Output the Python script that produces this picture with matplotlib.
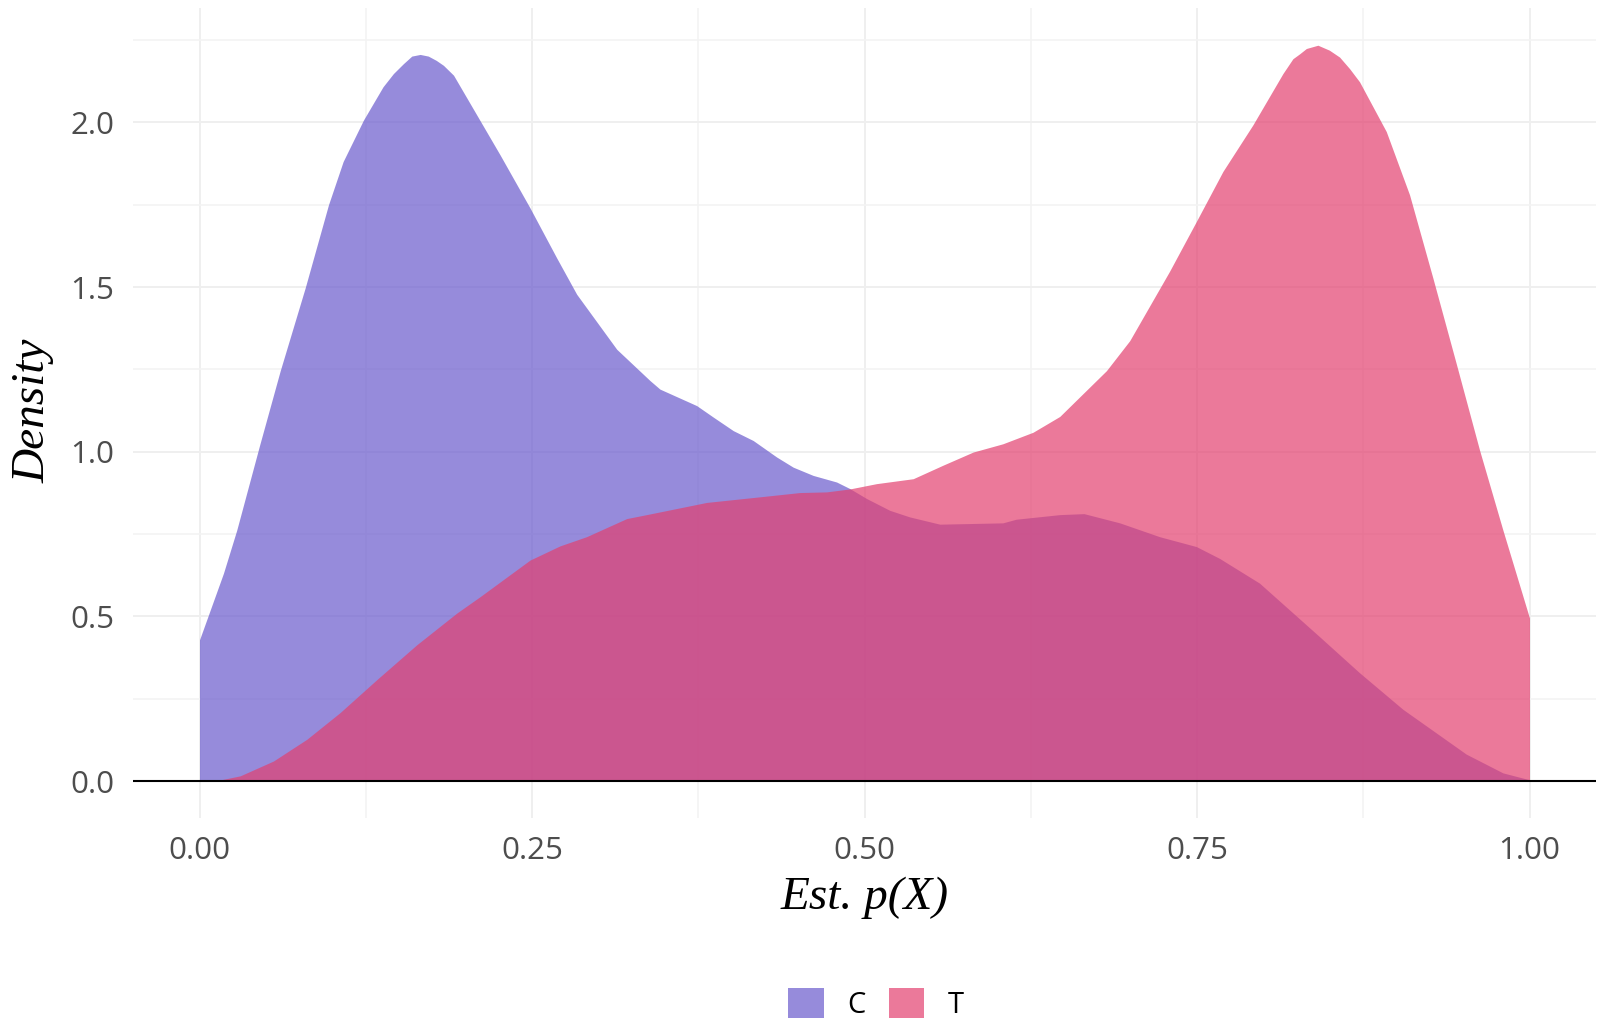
import matplotlib
matplotlib.use("Agg")
import matplotlib.pyplot as plt
from matplotlib.patches import Patch

# Density curve for group C (Est. p(X) vs density)
c_x = [0.0, 0.018, 0.028, 0.0452, 0.0607, 0.0795, 0.097, 0.108, 0.1233, 0.138, 0.1458,
       0.1533, 0.1596, 0.1659, 0.172, 0.178, 0.1834, 0.191, 0.2085, 0.226, 0.2485, 0.2686,
       0.2836, 0.3036, 0.3137, 0.3387, 0.3462, 0.3738, 0.3863, 0.4013, 0.4163, 0.4339,
       0.4464, 0.4614, 0.479, 0.489, 0.5015, 0.519, 0.534, 0.5566, 0.604, 0.614, 0.6468,
       0.665, 0.6919, 0.7219, 0.7495, 0.767, 0.797, 0.842, 0.8722, 0.9048, 0.9524, 0.98,
       1.0]
c_y = [0.429, 0.631, 0.762, 1.02, 1.246, 1.498, 1.75, 1.881, 2.007, 2.108, 2.148,
       2.178, 2.201, 2.206, 2.201, 2.188, 2.173, 2.143, 2.022, 1.901, 1.74, 1.588,
       1.478, 1.367, 1.311, 1.216, 1.19, 1.14, 1.105, 1.064, 1.034, 0.984,
       0.953, 0.928, 0.908, 0.888, 0.858, 0.822, 0.802, 0.78, 0.784, 0.795, 0.809,
       0.812, 0.784, 0.742, 0.712, 0.676, 0.601, 0.439, 0.329, 0.218, 0.082, 0.025,
       0.004]

# Density curve for group T
t_x = [0.0, 0.015, 0.0306, 0.0556, 0.0807, 0.1057, 0.1333, 0.1634, 0.1934, 0.211, 0.2485,
       0.271, 0.291, 0.3212, 0.3362, 0.3813, 0.4213, 0.4514, 0.4715, 0.489, 0.509,
       0.5366, 0.559, 0.5817, 0.604, 0.6267, 0.6468, 0.6819, 0.6994, 0.7294, 0.7495,
       0.7695, 0.792, 0.8146, 0.8221, 0.8272, 0.8322, 0.8409, 0.8495, 0.8572, 0.8647,
       0.8722, 0.8923, 0.9098, 0.9273, 0.945, 0.9625, 0.98, 1.0]
t_y = [0.0, 0.003, 0.016, 0.061, 0.127, 0.208, 0.308, 0.414, 0.51, 0.56, 0.671,
       0.714, 0.742, 0.797, 0.809, 0.846, 0.863, 0.876, 0.878, 0.887, 0.903,
       0.918, 0.959, 0.999, 1.024, 1.059, 1.107, 1.246, 1.337, 1.548, 1.699,
       1.851, 1.992, 2.148, 2.193, 2.208, 2.224, 2.234, 2.219, 2.198, 2.163,
       2.123, 1.972, 1.78, 1.528, 1.266, 1.004, 0.762, 0.495]

groups = ["C", "T"]
colors = ["#6A5ACD", "#E3406F"]
x_ticks = [0.00, 0.25, 0.50, 0.75, 1.00]
x_labels = ["0.00", "0.25", "0.50", "0.75", "1.00"]
y_ticks = [0.0, 0.5, 1.0, 1.5, 2.0]
y_labels = ["0.0", "0.5", "1.0", "1.5", "2.0"]

W, H = 1604, 1023
fig = plt.figure(figsize=(W / 100, H / 100), dpi=100)
ax = fig.add_axes([133 / W, 1 - 818 / H, (1596 - 133) / W, (818 - 8) / H])

alpha = 0.7
ax.fill_between(c_x, 0, c_y, color=colors[0], alpha=alpha, linewidth=0, zorder=2)
ax.fill_between(t_x, 0, t_y, color=colors[1], alpha=alpha, linewidth=0, zorder=3)
ax.axhline(0, color="black", linewidth=1.5, zorder=4)

ax.set_xlim(-0.05, 1.05)
ax.set_ylim(-0.112, 2.347)
ax.set_xticks(x_ticks)
ax.set_xticklabels(x_labels)
ax.set_yticks(y_ticks)
ax.set_yticklabels(y_labels)
ax.set_xticks([0.125, 0.375, 0.625, 0.875], minor=True)
ax.set_yticks([0.25, 0.75, 1.25, 1.75, 2.25], minor=True)

ax.set_axisbelow(True)
ax.grid(True, which="major", color="#EFEFEF", linewidth=1.4, zorder=0)
ax.grid(True, which="minor", color="#F3F3F3", linewidth=1.2, zorder=0)
for s in ax.spines.values():
    s.set_visible(False)
ax.tick_params(which="both", length=0)
ax.tick_params(axis="x", pad=13, labelsize=22.5, labelcolor="#4D4D4D")
ax.tick_params(axis="y", pad=13.5, labelsize=22.5, labelcolor="#4D4D4D")
for lab in ax.get_xticklabels() + ax.get_yticklabels():
    lab.set_fontfamily("Open Sans")

fig.text(864.5 / W, 1 - 898 / H, "Est. p(X)", ha="center", va="center",
         fontsize=34, fontstyle="italic", family="Liberation Serif")
fig.text(33 / W, 1 - 411 / H, "Density", ha="center", va="center", rotation=90,
         fontsize=34, fontstyle="italic", family="Liberation Serif")

handles = [Patch(facecolor=colors[i], alpha=alpha, edgecolor="none", label=groups[i])
           for i in range(2)]
leg = fig.legend(handles=handles, loc="center", bbox_to_anchor=(876 / W, 1 - 1004 / H),
                 ncol=2, frameon=False, prop={"family": "Open Sans", "size": 21},
                 handlelength=1.22, handleheight=1.22, handletextpad=0.8,
                 columnspacing=0.8, borderpad=0, borderaxespad=0)

fig.savefig("out.png", dpi=100, facecolor="white")
